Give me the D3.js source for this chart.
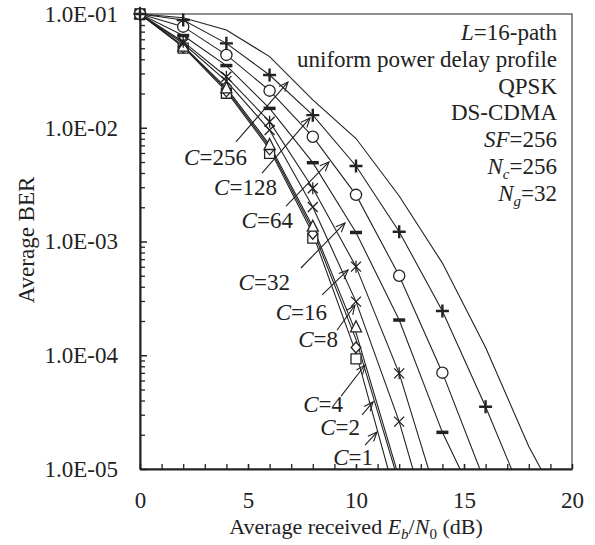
<!DOCTYPE html>
<html>
<head>
<meta charset="utf-8">
<script src="https://cdn.jsdelivr.net/npm/d3@7/dist/d3.min.js"></script>
<style>
  html, body { margin: 0; padding: 0; background: #fff; }
  svg text { font-family: "Liberation Serif", "Times New Roman", serif; fill: #222; }
</style>
</head>
<body>
<svg id="chart" width="595" height="545"></svg>
<script>
// ---------------- data ----------------
const xTicksLabeled = [0, 5, 10, 15, 20];
const yTicksMajor = [1e-1, 1e-2, 1e-3, 1e-4, 1e-5];
const ebn0 = [0, 2, 4, 6, 8, 10, 12, 14, 16, 18, 20];
const curveNames = ["1", "2", "4", "8", "16", "32", "64", "128", "256"];

// theoretical lines (BER at ebn0[i]); below 1e-5 clipped by plot area
const lineC1   = [1e-1, 5.13e-2, 2.09e-2, 6.46e-3, 1.17e-3, 1.05e-4, 4.4e-6];
const lineC2   = [1e-1, 5.19e-2, 2.16e-2, 6.76e-3, 1.26e-3, 1.38e-4, 7.4e-6];
const lineC4   = [1e-1, 5.25e-2, 2.24e-2, 7.08e-3, 1.35e-3, 1.58e-4, 8.3e-6];
const lineC8   = [1e-1, 5.5e-2, 2.57e-2, 9.55e-3, 2.01e-3, 2.96e-4, 2.61e-5, 1.26e-6];
const lineC16  = [1e-1, 5.71e-2, 2.81e-2, 1.13e-2, 2.94e-3, 6.01e-4, 6.93e-5, 3.98e-6];
const lineC32  = [1e-1, 6.46e-2, 3.52e-2, 1.48e-2, 4.93e-3, 1.2e-3, 2.04e-4, 2.1e-5, 3.4e-6];
const lineC64  = [1e-1, 7.74e-2, 4.37e-2, 2.12e-2, 8.34e-3, 2.57e-3, 5.0e-4, 7.03e-5, 7.4e-6];
const lineC128 = [1e-1, 8.85e-2, 5.52e-2, 2.91e-2, 1.29e-2, 4.61e-3, 1.22e-3, 2.45e-4, 3.53e-5, 4.3e-6];
const lineC256 = [1e-1, 9.27e-2, 7.23e-2, 4.22e-2, 1.76e-2, 8.04e-3, 2.51e-3, 6.46e-4, 1.17e-4, 1.58e-5, 3.1e-6];

// simulation markers (BER at ebn0[i])
const simC1   = [1e-1, 5.01e-2, 2.01e-2, 5.96e-3, 1.07e-3, 9.3e-5];
const simC2   = [1e-1, 5.07e-2, 2.09e-2, 6.46e-3, 1.17e-3, 1.17e-4];
const simC4   = [1e-1, 5.16e-2, 2.22e-2, 7.05e-3, 1.35e-3, 1.76e-4];
const simC8   = [1e-1, 5.5e-2, 2.57e-2, 9.55e-3, 2.01e-3, 2.96e-4, 2.61e-5];
const simC16  = [1e-1, 5.71e-2, 2.81e-2, 1.13e-2, 2.94e-3, 6.01e-4, 6.93e-5];
const simC32  = [1e-1, 6.46e-2, 3.52e-2, 1.48e-2, 4.93e-3, 1.2e-3, 2.04e-4, 2.1e-5];
const simC64  = [1e-1, 7.74e-2, 4.37e-2, 2.12e-2, 8.34e-3, 2.57e-3, 5.0e-4, 7.03e-5];
const simC128 = [1e-1, 8.85e-2, 5.52e-2, 2.91e-2, 1.29e-2, 4.61e-3, 1.22e-3, 2.45e-4, 3.53e-5];

const markerTypes = ["square", "diamond", "triangle", "x", "asterisk", "dash", "circle", "plus"];

// curve-label annotations: label end (dB, log10 BER), arrow start -> arrow tip
const annC   = ["256", "128", "64", "32", "16", "8", "4", "2", "1"];
const annLX  = [4.95, 6.34, 7.08, 6.94, 8.66, 9.17, 9.40, 10.19, 10.79];
const annLY  = [-2.327, -2.591, -2.881, -3.426, -3.69, -3.93, -4.50, -4.70, -4.965];
const annX0  = [4.44, 5.65, 6.76, 7.45, 8.43, 9.12, 9.31, 10.28, 10.42];
const annY0  = [-2.125, -2.398, -2.688, -3.233, -3.47, -3.78, -4.36, -4.525, -4.79];
const annX1  = [6.85, 7.87, 8.75, 9.49, 9.63, 9.95, 10.42, 10.79, 10.97];
const annY1  = [-1.598, -1.914, -2.301, -2.837, -3.25, -3.56, -4.086, -4.41, -4.675];

const legendLines = ["L=16-path", "uniform power delay profile", "QPSK", "DS-CDMA", "SF=256", "Nc=256", "Ng=32"];

// ---------------- chart ----------------
const lines = [lineC1, lineC2, lineC4, lineC8, lineC16, lineC32, lineC64, lineC128, lineC256];
const sims = [simC1, simC2, simC4, simC8, simC16, simC32, simC64, simC128];

const svg = d3.select("#chart");
const L = 140, R = 572, T = 14, B = 469;
const x = d3.scaleLinear().domain([0, 20]).range([L, R]);
const y = d3.scaleLog().domain([1e-5, 1e-1]).range([B, T]);
const ink = "#222";
const FS = 23;

svg.append("defs").append("clipPath").attr("id", "plotclip")
  .append("rect").attr("x", L).attr("y", T).attr("width", R - L).attr("height", B - T);

// frame
svg.append("rect").attr("x", L).attr("y", T).attr("width", R - L).attr("height", B - T)
  .attr("fill", "none").attr("stroke", "#444").attr("stroke-width", 1.2);

// minor y ticks
const yMinor = [];
for (let e = -5; e < -1; e++) for (let m = 2; m <= 9; m++) yMinor.push(m * Math.pow(10, e));
svg.append("g").attr("transform", `translate(${L},0)`)
  .call(d3.axisLeft(y).tickValues(yMinor).tickSize(-5).tickFormat(""))
  .call(g => g.select(".domain").remove())
  .call(g => g.selectAll("text").remove())
  .call(g => g.selectAll("line").attr("stroke", ink).attr("stroke-width", 1.3));

// major y ticks + labels
svg.append("g").attr("transform", `translate(${L},0)`)
  .call(d3.axisLeft(y).tickValues(yTicksMajor).tickSizeInner(-7).tickSizeOuter(0).tickPadding(22)
    .tickFormat(d => "1.0E-" + String(-Math.round(Math.log10(d))).padStart(2, "0")))
  .call(g => g.select(".domain").attr("stroke", ink).attr("stroke-width", 2))
  .call(g => g.selectAll("line").attr("stroke", ink).attr("stroke-width", 1.5))
  .call(g => g.selectAll("text").attr("font-size", FS).attr("font-family", null).attr("fill", ink));

// minor x ticks (no labels)
svg.append("g").attr("transform", `translate(0,${B})`)
  .call(d3.axisBottom(x).tickValues(d3.range(0, 21, 1)).tickSize(-5).tickFormat(""))
  .call(g => g.select(".domain").remove())
  .call(g => g.selectAll("text").remove())
  .call(g => g.selectAll("line").attr("stroke", ink).attr("stroke-width", 1.3));

// labeled x ticks
svg.append("g").attr("transform", `translate(0,${B})`)
  .call(d3.axisBottom(x).tickValues(xTicksLabeled).tickSizeInner(-5).tickSizeOuter(0).tickPadding(23))
  .call(g => g.select(".domain").attr("stroke", ink).attr("stroke-width", 2))
  .call(g => g.selectAll("line").attr("stroke", ink).attr("stroke-width", 1.3))
  .call(g => g.selectAll("text").attr("font-size", FS).attr("font-family", null).attr("fill", ink));

// axis titles
const xt = svg.append("text").attr("x", (L + R) / 2).attr("y", 534).attr("text-anchor", "middle").attr("font-size", 22);
xt.append("tspan").text("Average received ");
xt.append("tspan").attr("font-style", "italic").text("E");
xt.append("tspan").attr("font-style", "italic").attr("font-size", 15).attr("dy", 5).text("b");
xt.append("tspan").attr("dy", -5).text("/");
xt.append("tspan").attr("font-style", "italic").text("N");
xt.append("tspan").attr("font-size", 15).attr("dy", 5).text("0");
xt.append("tspan").attr("dy", -5).text(" (dB)");

svg.append("text").attr("transform", "translate(34,240) rotate(-90)")
  .attr("text-anchor", "middle").attr("font-size", FS).text("Average BER");

// lines
const lineGen = d3.line().x((d, i) => x(ebn0[i])).y(d => y(d));
const plotG = svg.append("g").attr("clip-path", "url(#plotclip)");
lines.forEach(arr => {
  plotG.append("path").attr("d", lineGen(arr)).attr("fill", "none")
    .attr("stroke", ink).attr("stroke-width", 1.1);
});

// markers
function markerPath(type) {
  const p = d3.path();
  switch (type) {
    case "square": p.rect(-5, -5, 10, 10); break;
    case "diamond": p.moveTo(0, -5.5); p.lineTo(4.8, 0); p.lineTo(0, 5.5); p.lineTo(-4.8, 0); p.closePath(); break;
    case "triangle": p.moveTo(0, -6.5); p.lineTo(5.5, 4.5); p.lineTo(-5.5, 4.5); p.closePath(); break;
    case "circle": p.arc(0, 0, 5.6, 0, 2 * Math.PI); p.closePath(); break;
    case "x": p.moveTo(-5, -5); p.lineTo(5, 5); p.moveTo(5, -5); p.lineTo(-5, 5); break;
    case "asterisk": p.moveTo(-5, -5); p.lineTo(5, 5); p.moveTo(5, -5); p.lineTo(-5, 5); p.moveTo(0, -6); p.lineTo(0, 6); break;
    case "dash": p.moveTo(-6, 0); p.lineTo(6, 0); break;
    case "plus": p.moveTo(-6.5, 0); p.lineTo(6.5, 0); p.moveTo(0, -6.5); p.lineTo(0, 6.5); break;
  }
  return p.toString();
}
const filled = new Set(["square", "diamond", "triangle", "circle"]);
const markG = svg.append("g");
sims.forEach((arr, si) => {
  const type = markerTypes[si];
  markG.selectAll(null).data(arr).enter().append("path")
    .attr("transform", (d, i) => `translate(${x(ebn0[i])},${y(d)})`)
    .attr("d", markerPath(type))
    .attr("fill", filled.has(type) ? "#fff" : "none")
    .attr("stroke", ink)
    .attr("stroke-width", type === "dash" ? 3.5 : type === "plus" ? 2.4 : 1.3);
});

// annotations
const annG = svg.append("g");
annC.forEach((c, i) => {
  const t = annG.append("text").attr("x", x(annLX[i])).attr("y", y(Math.pow(10, annLY[i])))
    .attr("text-anchor", "end").attr("font-size", FS);
  t.append("tspan").attr("font-style", "italic").text("C");
  t.append("tspan").text("=" + c);
  const x0 = x(annX0[i]), y0 = y(Math.pow(10, annY0[i]));
  const x1 = x(annX1[i]), y1 = y(Math.pow(10, annY1[i]));
  annG.append("line").attr("x1", x0).attr("y1", y0).attr("x2", x1).attr("y2", y1)
    .attr("stroke", ink).attr("stroke-width", 1.1);
  const ang = Math.atan2(y1 - y0, x1 - x0), len = 10, spread = 0.4;
  const hp = d3.path();
  hp.moveTo(x1 - len * Math.cos(ang - spread), y1 - len * Math.sin(ang - spread));
  hp.lineTo(x1, y1);
  hp.lineTo(x1 - len * Math.cos(ang + spread), y1 - len * Math.sin(ang + spread));
  annG.append("path").attr("d", hp.toString()).attr("fill", "none").attr("stroke", ink).attr("stroke-width", 1.1);
});

// legend text block (right aligned)
const legG = svg.append("g");
const legX = 557, legY0 = 40, legDy = 26.8;
legendLines.forEach((s, i) => {
  const t = legG.append("text").attr("x", legX).attr("y", legY0 + i * legDy)
    .attr("text-anchor", "end").attr("font-size", FS);
  if (i === 0) { t.append("tspan").attr("font-style", "italic").text("L"); t.append("tspan").text("=16-path"); }
  else if (i === 4) { t.append("tspan").attr("font-style", "italic").text("SF"); t.append("tspan").text("=256"); }
  else if (i === 5 || i === 6) {
    t.append("tspan").attr("font-style", "italic").text("N");
    t.append("tspan").attr("font-style", "italic").attr("font-size", 15).attr("dy", 5).text(i === 5 ? "c" : "g");
    t.append("tspan").attr("dy", -5).text(i === 5 ? "=256" : "=32");
  }
  else t.text(s);
});
</script>
</body>
</html>
